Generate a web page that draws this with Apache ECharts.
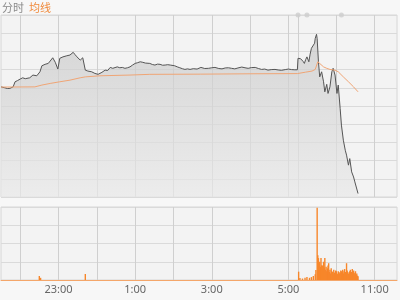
<!DOCTYPE html>
<html><head><meta charset="utf-8">
<script src="https://cdn.jsdelivr.net/npm/echarts@6/dist/echarts.min.js"></script>
<style>html,body{margin:0;padding:0;background:#f7f7f7}#c{width:400px;height:300px}</style>
</head><body><div id="c"></div>
<script>
// trading sessions: [start time, number of 1-minute slots]
const sessions = [['21:30', 465], ['9:00', 156]];
function buildCategories() {
  const out = [];
  sessions.forEach(([s, n]) => {
    const [h, m] = s.split(':').map(Number);
    for (let i = 0; i < n; i++) {
      const t = h * 60 + m + i;
      const hh = Math.floor(t / 60) % 24, mm = t % 60;
      out.push(hh + ':' + (mm < 10 ? '0' : '') + mm);
    }
  });
  return out;
}
const categories = buildCategories();
const hourLines = ['22:00','23:00','0:00','1:00','2:00','3:00','4:00','5:00','9:00','10:00','11:00'];
const tickLabels = ['23:00','1:00','3:00','5:00','11:00'];

// price readings [slot index, value]
const price = [
[0,6.05],[3,6.02],[6,6.00],[10,5.96],[14,5.97],[17,6.02],[19,6.05],[22,6.33],[24,6.28],[26,6.40],[28,6.36],[30,6.48],[32,6.44],
[34,6.55],[38,6.50],[41,6.52],[45,6.55],[47,6.60],[50,6.70],[53,6.63],[56,6.66],[58,6.72],[61,6.88],
[64,7.21],[66,7.15],[69,7.29],[72,7.25],[74,7.34],[77,7.47],[79,7.40],[81,7.65],[83,7.55],[85,7.40],[89,7.03],[92,7.62],[95,7.58],
[97,7.70],[100,7.66],[103,7.76],[106,7.72],[108,7.80],[113,7.95],[116,7.82],
[119,7.70],[124,7.52],[128,7.65],[132,6.97],[136,6.92],[139,6.95],[142,6.88],[147,6.79],[152,6.74],[155,6.80],[158,6.85],[163,6.97],
[167,6.95],[171,7.12],[175,7.07],[178,7.13],[182,7.15],[186,7.10],[190,7.12],[194,7.07],[198,7.10],[202,7.15],[206,7.25],[210,7.34],
[214,7.38],[218,7.43],[222,7.40],[226,7.36],[229,7.29],[233,7.34],[237,7.28],[241,7.25],
[245,7.30],[249,7.29],[253,7.24],[257,7.25],[261,7.27],[265,7.25],[268,7.22],[272,7.21],[276,7.15],[280,7.10],[284,7.05],[288,7.01],
[292,7.04],[296,7.01],[301,7.05],[307,7.03],[313,7.12],[319,7.06],[325,7.07],[330,7.10],[335,7.12],
[341,7.06],[346,7.04],[351,7.09],[356,7.10],[361,7.07],[366,7.04],[371,7.09],[377,7.14],[382,7.10],[387,7.07],[392,7.11],[398,7.12],
[403,7.06],[408,7.01],[413,7.03],[418,6.97],[423,7.00],[429,7.01],[434,6.98],[439,6.96],[445,7.00],[450,7.03],
[455,7.00],[460,6.99],[464,6.99],
[465,7.62],[467,7.70],[469,7.60],[471,7.52],[473,7.45],[475,7.34],[477,7.55],[479,7.70],[482,7.43],[484,7.85],[486,8.17],[489,8.26],
[491,8.45],[492,8.72],[494,8.94],[495,8.70],[497,7.43],
[499,6.60],[502,6.88],[505,6.33],[507,5.78],[510,6.19],[512,5.69],[515,6.05],[518,6.88],[520,7.07],[523,6.70],[526,5.69],
[528,6.15],[531,4.87],[533,3.95],[536,3.12],[539,2.57],[541,2.30],[544,1.75],[546,2.11],[549,1.38],[552,1.10],[554,0.83],
[557,0.83],[559,0.19]
];
const avgPrice = [
[0,6.04],[53,6.05],[64,6.15],[77,6.24],[92,6.33],[108,6.42],[124,6.55],[132,6.60],[155,6.66],[202,6.70],[233,6.74],
[312,6.75],[390,6.77],[464,6.78],[465,6.79],[477,6.86],[487,6.92],[492,7.01],[496,7.43],[499,7.36],[505,7.15],[510,7.07],
[515,7.01],[523,6.97],[528,6.88],[536,6.60],[544,6.33],[552,6.05],[559,5.78]
];
const volume = [
[60,5.5],[62,3],[132,8.2],
[466,11.4],[468,2.7],[472,2],[476,3],[479,4],[483,3],[486,4],[489,5.5],[492,8],[493,13.7],[495,99],[496,34],[497,30],[498,22],
[499,25],[500,18],[501,30],[502,20],[503,20],[504,15],[505,25],[506,17],[507,30],[508,14],[509,18],[510,12],[511,16],[512,20],
[513,23],[514,11],[515,14],[516,9],[517,16],[518,12],[519,11],[520,8],[521,14],[522,10],[523,10],[524,13],[525,12],[526,9],
[527,8],[528,12],[529,11],[530,9],[531,10],[532,13],[533,12],[534,10],[535,14],[536,9],[537,12],[538,15],[539,11],[540,10],
[541,23],[542,13],[543,11],[544,9],[545,8],[546,12],[547,14],[548,10],[549,11],[550,15],[551,9],[552,13],[553,8],[554,10],
[555,12],[556,7],[557,9],[558,6],[559,5]
];
const events = [465, 479, 533];

const chart = echarts.init(document.getElementById('c'), null, {renderer: 'canvas'});
const vLine = {show: true, interval: (i, v) => hourLines.includes(v), lineStyle: {color: '#cfcfcf', width: 1}};
const hLine = {show: true, lineStyle: {color: '#dadada', width: 1}};
chart.setOption({
  animation: false,
  backgroundColor: '#f7f7f7',
  legend: {
    left: -3, top: 1, icon: 'none', itemWidth: 0, itemGap: 0, padding: [0, 0],
    selectedMode: false,
    textStyle: {fontSize: 11, fontFamily: 'Noto Sans CJK SC'},
    data: [{name: '分时', textStyle: {color: '#8a8a8a'}}, {name: '均线', textStyle: {color: '#f08a3c'}}]
  },
  grid: [
    {left: 1, right: 3, top: 15, height: 182, show: true, backgroundColor: '#f3f3f3', borderColor: '#d6d6d6', borderWidth: 1},
    {left: 1, right: 3, top: 207, height: 73, show: true, backgroundColor: '#f3f3f3', borderColor: '#d6d6d6', borderWidth: 1}
  ],
  xAxis: [
    {type: 'category', gridIndex: 0, data: categories, boundaryGap: false,
     axisLine: {show: false}, axisTick: {show: false}, axisLabel: {show: false}, splitLine: vLine},
    {type: 'category', gridIndex: 1, data: categories, boundaryGap: false,
     axisLine: {show: true, lineStyle: {color: '#f4a66a'}}, axisTick: {show: false},
     axisLabel: {show: true, interval: (i, v) => tickLabels.includes(v), color: '#666', fontSize: 11, margin: 4,
       fontFamily: 'Noto Sans'},
     splitLine: vLine}
  ],
  yAxis: [
    {type: 'value', gridIndex: 0, min: 0, max: 10, interval: 1, axisLabel: {show: false},
     axisLine: {show: false}, axisTick: {show: false}, splitLine: hLine},
    {type: 'value', gridIndex: 1, min: 0, max: 100, interval: 25, axisLabel: {show: false},
     axisLine: {show: false}, axisTick: {show: false}, splitLine: hLine}
  ],
  series: [
    {name: '分时', type: 'line', xAxisIndex: 0, yAxisIndex: 0, data: price, symbol: 'none',
     lineStyle: {color: '#555', width: 1}, itemStyle: {color: '#555'},
     areaStyle: {color: new echarts.graphic.LinearGradient(0, 0, 0, 1, [
       {offset: 0, color: '#c9c9c9'}, {offset: 1, color: '#e9e9e9'}])}},
    {name: '均线', type: 'line', xAxisIndex: 0, yAxisIndex: 0, data: avgPrice, symbol: 'none',
     lineStyle: {color: '#f0a575', width: 1}, itemStyle: {color: '#f08a3c'}},
    {name: 'events', type: 'scatter', xAxisIndex: 0, yAxisIndex: 0, data: events.map(i => [i, 10]),
     symbolSize: 5, itemStyle: {color: '#cdcdcd'}, clip: false, silent: true},
    {name: 'volume', type: 'bar', xAxisIndex: 1, yAxisIndex: 1, data: volume, barWidth: 1.4,
     itemStyle: {color: '#f7862a'}}
  ]
});
</script></body></html>
